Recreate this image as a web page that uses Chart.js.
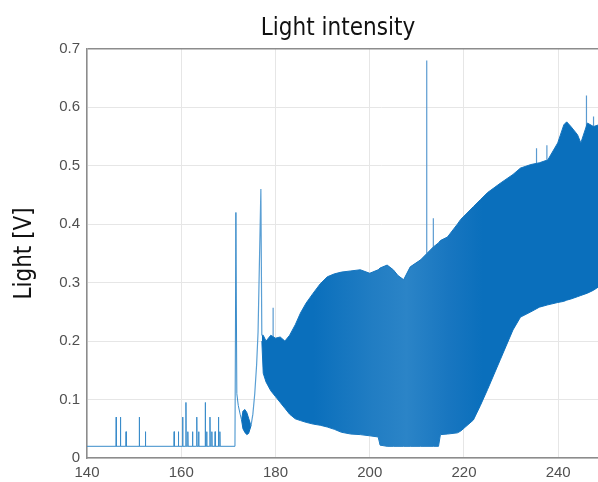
<!DOCTYPE html>
<html>
<head>
<meta charset="utf-8">
<script src="https://cdn.jsdelivr.net/npm/chart.js@4"></script>
<style>
  html, body { margin: 0; padding: 0; background: #fff; overflow: hidden; }
</style>
</head>
<body>
<canvas id="chart1" width="676" height="482"></canvas>
<script>
// tick labels
var xTicks = [140, 160, 180, 200, 220, 240, 260];
var yTicks = [0, 0.1, 0.2, 0.3, 0.4, 0.5, 0.6, 0.7];

// low level part: flat baseline with short spikes
var baseLevel = 0.02;
var lowSpikeX = [146.2, 147.1, 148.3, 151.1, 152.4, 158.5, 159.4, 160.3, 161.0, 161.4, 162.4, 163.3, 163.7, 165.1, 165.4, 166.1, 166.5, 167.2, 167.9, 168.2];
var lowSpikeY = [0.07, 0.07, 0.045, 0.07, 0.045, 0.045, 0.045, 0.07, 0.095, 0.045, 0.045, 0.07, 0.045, 0.095, 0.045, 0.07, 0.045, 0.045, 0.07, 0.045];

// transition before the band
var riseX = [171.4, 171.6, 171.8, 172.1, 172.5, 172.8];
var riseY = [0.02, 0.42, 0.11, 0.09, 0.075, 0.065];
var blobX = [172.8, 173.1, 173.5, 173.9, 174.3, 174.8];
var blobUpper = [0.065, 0.08, 0.083, 0.078, 0.068, 0.055];
var blobLower = [0.065, 0.05, 0.044, 0.04, 0.042, 0.055];
var climbX = [174.8, 175.2, 175.6, 176.0, 176.3, 176.9, 177.1];
var climbY = [0.055, 0.075, 0.11, 0.16, 0.215, 0.46, 0.21];

// dense oscillating band (upper / lower envelope)
var bandX = [177.1, 177.4, 178, 179, 180, 181, 182, 183, 184.2, 185.3, 186.5, 188, 189.5, 191, 192.5, 194, 196, 198, 200, 201.8, 202.2, 203.7, 205, 206, 207.2, 208.6, 210.8, 213.5, 214.6, 215, 216.5, 218.6, 219.3, 222, 223.5, 225, 227.7, 230.4, 232, 234.2, 236, 237.8, 239.9, 241.2, 241.8, 242.7, 244.1, 244.8, 246.2, 247.5, 248.6, 250];
var bandUpper = [0.21, 0.21, 0.2, 0.21, 0.205, 0.207, 0.2, 0.21, 0.228, 0.248, 0.265, 0.282, 0.298, 0.31, 0.315, 0.318, 0.32, 0.322, 0.316, 0.322, 0.325, 0.33, 0.322, 0.312, 0.305, 0.327, 0.339, 0.361, 0.368, 0.372, 0.378, 0.4, 0.408, 0.43, 0.442, 0.454, 0.47, 0.485, 0.496, 0.502, 0.505, 0.51, 0.539, 0.57, 0.575, 0.567, 0.553, 0.539, 0.573, 0.567, 0.57, 0.57];
var bandLower = [0.2, 0.145, 0.13, 0.115, 0.105, 0.095, 0.085, 0.075, 0.067, 0.064, 0.061, 0.058, 0.056, 0.053, 0.049, 0.044, 0.041, 0.04, 0.038, 0.036, 0.022, 0.02, 0.02, 0.02, 0.02, 0.02, 0.02, 0.02, 0.02, 0.04, 0.041, 0.043, 0.046, 0.065, 0.09, 0.117, 0.168, 0.219, 0.241, 0.25, 0.258, 0.262, 0.266, 0.268, 0.27, 0.272, 0.276, 0.278, 0.282, 0.287, 0.293, 0.3];

// tall spikes sticking out of the band
var bandSpikeX = [179.5, 212.1, 213.5, 235.4, 237.6, 246.0, 247.5];
var bandSpikeTop = [0.257, 0.68, 0.41, 0.53, 0.535, 0.62, 0.584];
var bandSpikeBase = [0.2, 0.35, 0.36, 0.5, 0.51, 0.55, 0.56];

function pts(xs, ys) {
    return xs.map(function (x, i) { return {x: x, y: ys[i]}; });
}

// thin signal line
var signal = [{x: 140, y: baseLevel}];
lowSpikeX.forEach(function (x, i) {
    signal.push({x: x - 0.05, y: baseLevel});
    signal.push({x: x, y: lowSpikeY[i]});
    signal.push({x: x + 0.05, y: baseLevel});
});
signal = signal.concat(pts(riseX, riseY));

var spikes = [];
bandSpikeX.forEach(function (x, i) {
    spikes.push({x: x, y: bandSpikeBase[i]});
    spikes.push({x: x, y: bandSpikeTop[i]});
    spikes.push({x: x, y: null});
});

var blue = '#0a6fbc';
function bandFill(c) {
    var chart = c.chart;
    if (!chart.chartArea) return blue;
    var xs = chart.scales.x;
    var g = chart.ctx.createLinearGradient(xs.getPixelForValue(188), 0, xs.getPixelForValue(224), 0);
    g.addColorStop(0, '#0a6fbc');
    g.addColorStop(0.35, '#217dc3');
    g.addColorStop(0.55, '#2b84c7');
    g.addColorStop(0.8, '#1876c0');
    g.addColorStop(1, '#0a6fbc');
    return g;
}

var condensed = "'DejaVu Sans Condensed', 'Roboto Condensed', Roboto, sans-serif";
var lineOpts = {pointRadius: 0, tension: 0, fill: false};

var ctx1 = document.getElementById('chart1').getContext('2d');
var chart1 = new Chart(ctx1, {
    type: 'line',
    data: {
        datasets: [
            Object.assign({data: signal, borderColor: '#3a8cca', borderWidth: 1}, lineOpts),
            Object.assign({data: pts(climbX, climbY), borderColor: '#5a9fd4', borderWidth: 1.2}, lineOpts),
            Object.assign({}, lineOpts, {data: pts(blobX, blobUpper), borderColor: blue, borderWidth: 1, backgroundColor: blue, fill: '+1'}),
            Object.assign({data: pts(blobX, blobLower), borderColor: blue, borderWidth: 1}, lineOpts),
            Object.assign({}, lineOpts, {data: pts(bandX, bandUpper), borderColor: '#1575bf', borderWidth: 1, backgroundColor: bandFill, fill: '+1'}),
            Object.assign({data: pts(bandX, bandLower), borderColor: '#1575bf', borderWidth: 1}, lineOpts),
            Object.assign({data: spikes, borderColor: '#5a9ad0', borderWidth: 1.2, spanGaps: false}, lineOpts)
        ]
    },
    options: {
        responsive: false,
        animation: false,
        layout: {padding: 0},
        plugins: {
            legend: {display: false},
            tooltip: {enabled: false},
            title: {
                display: true,
                text: 'Light intensity',
                color: '#111',
                font: {family: condensed, size: 24, weight: 'normal'},
                padding: {top: 14, bottom: 6}
            }
        },
        scales: {
            x: {
                type: 'linear',
                min: 140,
                max: 265,
                afterBuildTicks: function (s) { s.ticks = xTicks.map(function (v) { return {value: v}; }); },
                afterFit: function (s) { s.height = 24; },
                border: {color: '#8c8c8c', width: 1.5},
                grid: {color: '#e6e6e6', drawTicks: false},
                ticks: {
                    color: '#505050',
                    padding: 6,
                    font: {family: 'Liberation Sans', size: 15},
                    maxRotation: 0
                }
            },
            y: {
                min: 0,
                max: 0.7,
                afterBuildTicks: function (s) { s.ticks = yTicks.map(function (v) { return {value: v}; }); },
                afterFit: function (s) { s.width = 87; },
                border: {color: '#8c8c8c', width: 1.5},
                grid: {
                    drawTicks: false,
                    color: function (c) { return c.tick && c.tick.value === 0.7 ? '#8c8c8c' : '#e6e6e6'; },
                    lineWidth: function (c) { return c.tick && c.tick.value === 0.7 ? 1.5 : 1; }
                },
                ticks: {
                    color: '#505050',
                    padding: 7,
                    font: {family: 'Liberation Sans', size: 15},
                    callback: function (v) { return v === 0 ? '0' : v.toFixed(1); }
                },
                title: {
                    display: true,
                    text: 'Light [V]',
                    color: '#111',
                    font: {family: condensed, size: 24, weight: 'normal'},
                    padding: {top: 10, bottom: 0}
                }
            }
        }
    }
});
</script>
</body>
</html>
